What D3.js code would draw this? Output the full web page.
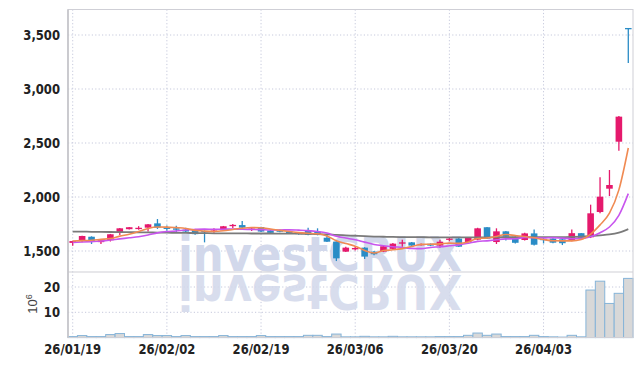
<!DOCTYPE html>
<html>
<head>
<meta charset="utf-8">
<script src="https://cdn.jsdelivr.net/npm/d3@7"></script>
<style>
  body { margin: 0; background: #fff; }
  svg { display: block; }
  .lbl { font-family: "Liberation Sans Narrow", "DejaVu Sans", sans-serif; font-weight: bold; font-size: 14.5px; fill: #222; }
</style>
</head>
<body>
<div id="chart"></div>
<script>
const width = 642;
const height = 366;

// trading days (yy/mm/dd)
const dates = [
  '26/01/19','26/01/20','26/01/21','26/01/22','26/01/23','26/01/26','26/01/27','26/01/28','26/01/29','26/01/30',
  '26/02/02','26/02/03','26/02/04','26/02/05','26/02/06','26/02/09','26/02/10','26/02/11','26/02/12','26/02/13',
  '26/02/19','26/02/20','26/02/23','26/02/24','26/02/25','26/02/26','26/02/27','26/03/03','26/03/04','26/03/05',
  '26/03/06','26/03/09','26/03/10','26/03/11','26/03/12','26/03/13','26/03/16','26/03/17','26/03/18','26/03/19',
  '26/03/20','26/03/23','26/03/24','26/03/25','26/03/26','26/03/27','26/03/30','26/03/31','26/04/01','26/04/02',
  '26/04/03','26/04/06','26/04/07','26/04/08','26/04/09','26/04/10','26/04/13','26/04/14','26/04/15','26/04/16'
];
const tickDates = ['26/01/19','26/02/02','26/02/19','26/03/06','26/03/20','26/04/03'];
const priceTicks = [1500, 2000, 2500, 3000, 3500];
const volumeTicks = [10, 20];

const opens = [1575,1592,1632,1582,1599,1673,1702,1710,1716,1756, 1716,1710,1698,1694,1686,1682,1692,1736,1740,1700,
  1722,1690,1690,1680,1673,1692,1679,1623,1586,1494, 1515,1531,1494,1494,1520,1568,1580,1555,1567,1550,
  1605,1615,1583,1605,1720,1583,1682,1632,1602,1663, 1612,1615,1608,1597,1665,1627,1861,2077,2512,3565];
const highs = [1596,1642,1636,1605,1658,1712,1722,1730,1750,1796, 1735,1734,1716,1698,1690,1710,1732,1750,1778,1720,
  1725,1695,1700,1684,1676,1716,1710,1648,1590,1540, 1545,1535,1500,1546,1575,1605,1583,1570,1570,1605,
  1627,1620,1630,1715,1722,1710,1685,1636,1668,1700, 1630,1618,1612,1700,1667,1929,2182,2250,2750,3565];
const lows = [1548,1582,1565,1565,1588,1648,1698,1697,1680,1704, 1688,1673,1675,1650,1580,1668,1690,1712,1704,1685,
  1676,1660,1673,1658,1650,1645,1645,1583,1407,1490, 1505,1426,1460,1490,1515,1540,1546,1550,1545,1530,
  1590,1538,1580,1600,1612,1565,1597,1570,1598,1552, 1570,1572,1555,1590,1620,1620,1850,2009,2429,3240];
const closes = [1592,1639,1588,1600,1655,1710,1720,1715,1747,1716, 1706,1697,1680,1656,1680,1690,1729,1742,1716,1708,
  1680,1668,1682,1662,1656,1650,1648,1586,1432,1531, 1528,1448,1470,1543,1568,1580,1550,1565,1550,1586,
  1615,1540,1627,1710,1615,1682,1632,1576,1663,1558, 1600,1577,1572,1665,1622,1849,2003,2111,2744,3565];
// volume, millions of shares
const volumes = [0.4,0.8,0.4,0.4,1.2,1.6,0.4,0.4,1.2,0.8, 0.8,0.4,0.8,0.4,0.4,0.4,0.8,0.4,0.4,0.4,
  0.8,0.4,0.4,0.4,0.4,0.9,0.9,0.4,1.4,0.3, 0.3,0.5,0.3,0.3,0.5,0.3,0.3,0.3,0.3,0.4,
  0.4,0.4,0.9,1.8,0.9,1.4,0.4,0.4,0.4,0.9, 0.4,0.3,0.2,0.9,0.3,18.8,22.3,13.5,17.5,23.4];

// moving averages as drawn
const ma5 = [1593,1596,1600,1608,1615,1638,1655,1680,1709,1722, 1721,1716,1709,1691,1684,1681,1687,1699,1711,1717,
  1715,1703,1691,1680,1670,1664,1660,1640,1594,1569, 1545,1505,1482,1504,1511,1522,1542,1561,1563,1566,
  1573,1571,1584,1616,1621,1635,1653,1643,1634,1622, 1606,1595,1594,1594,1607,1657,1742,1850,2066,2454];
const ma10 = [1580,1583,1587,1592,1602,1612,1622,1632,1648,1668, 1680,1685,1695,1700,1703,1701,1702,1704,1701,1700,
  1698,1695,1695,1696,1693,1689,1681,1666,1637,1620, 1604,1582,1561,1549,1540,1533,1524,1522,1533,1539,
  1548,1557,1572,1589,1594,1604,1612,1613,1625,1622, 1620,1624,1619,1614,1615,1631,1669,1722,1830,2031];
const ma60 = [1680,1679,1678,1677,1676,1675,1674,1673,1672,1671, 1670,1668,1667,1666,1665,1664,1664,1663,1663,1662,
  1662,1662,1661,1661,1660,1659,1657,1654,1649,1645, 1641,1637,1634,1632,1630,1629,1628,1628,1627,1627,
  1627,1626,1626,1627,1627,1627,1628,1628,1628,1628, 1628,1628,1629,1630,1632,1638,1645,1653,1670,1702];

const upColor = '#e5196c';
const downColor = '#2a8cc6';

const plotLeft = 68, plotRight = 633, plotTop = 9.5, priceBottom = 272, volBottom = 337.5;

const svg = d3.select('#chart').append('svg')
  .attr('width', width)
  .attr('height', height);

const x = d3.scaleBand().domain(dates).range([plotLeft, plotRight]).padding(0);
const cx = d => x(d) + x.bandwidth() / 2;
const y = d3.scaleLinear().domain([1500, 3500]).range([251, 35]);
const yv = d3.scaleLinear().domain([0, 20]).range([337.6, 287]);

// GRID
const grid = svg.append('g')
  .attr('stroke', '#c6c9dc')
  .attr('stroke-dasharray', '1.2,2.2');
priceTicks.forEach(t => {
  grid.append('line').attr('x1', plotLeft).attr('x2', plotRight).attr('y1', y(t)).attr('y2', y(t));
});
volumeTicks.forEach(t => {
  grid.append('line').attr('x1', plotLeft).attr('x2', plotRight).attr('y1', yv(t)).attr('y2', yv(t));
});
tickDates.forEach(d => {
  grid.append('line').attr('x1', cx(d)).attr('x2', cx(d)).attr('y1', plotTop).attr('y2', volBottom);
});

// WATERMARK
const wm = svg.append('g')
  .attr('font-family', '"DejaVu Sans", sans-serif')
  .attr('font-weight', 'bold')
  .attr('font-size', 48)
  .attr('fill', '#d2d8eb');
wm.append('text')
  .attr('x', 178).attr('y', 271)
  .attr('textLength', 284).attr('lengthAdjust', 'spacingAndGlyphs')
  .text('investCRUX');
wm.append('text')
  .attr('x', 178).attr('y', 271)
  .attr('transform', 'translate(0,546) scale(1,-1)')
  .attr('textLength', 284).attr('lengthAdjust', 'spacingAndGlyphs')
  .attr('opacity', 0.85)
  .text('investCRUX');

// VOLUME
svg.append('g').selectAll('rect')
  .data(dates)
  .join('rect')
  .attr('x', d => x(d))
  .attr('width', x.bandwidth())
  .attr('y', (d, i) => yv(volumes[i]))
  .attr('height', (d, i) => yv(0) - yv(volumes[i]))
  .attr('fill', '#d8d8d8')
  .attr('stroke', '#86b4d8')
  .attr('stroke-width', 1);

// CANDLES
const bodyW = x.bandwidth() * 0.7;
const candles = svg.append('g');
dates.forEach((d, i) => {
  const color = closes[i] > opens[i] ? upColor : downColor;
  candles.append('line')
    .attr('x1', cx(d)).attr('x2', cx(d))
    .attr('y1', y(highs[i])).attr('y2', y(lows[i]))
    .attr('stroke', color)
    .attr('stroke-width', 1.3);
  const yTop = y(Math.max(opens[i], closes[i]));
  const yBot = y(Math.min(opens[i], closes[i]));
  candles.append('rect')
    .attr('x', cx(d) - bodyW / 2)
    .attr('width', bodyW)
    .attr('y', yTop)
    .attr('height', Math.max(1.3, yBot - yTop))
    .attr('fill', color);
});

// MOVING AVERAGES
const lineFor = values => d3.line()
  .x((d, i) => cx(dates[i]))
  .y(d => y(d))
  .curve(d3.curveMonotoneX)(values);
[[ma60, '#7a7a7a', 1.8], [ma10, '#c855ee', 1.6], [ma5, '#f08a52', 1.6]].forEach(([vals, color, w]) => {
  svg.append('path')
    .attr('d', lineFor(vals))
    .attr('fill', 'none')
    .attr('stroke', color)
    .attr('stroke-width', w);
});

// FRAME
const frame = svg.append('g').attr('stroke', '#cfcfd6').attr('fill', 'none');
frame.append('rect')
  .attr('x', plotLeft).attr('y', plotTop)
  .attr('width', plotRight - plotLeft).attr('height', volBottom - plotTop)
  .attr('stroke-width', 1);
frame.append('line')
  .attr('x1', plotLeft).attr('x2', plotRight)
  .attr('y1', priceBottom).attr('y2', priceBottom)
  .attr('stroke-width', 1.2);
frame.append('line')
  .attr('x1', plotLeft).attr('x2', plotLeft)
  .attr('y1', plotTop).attr('y2', volBottom)
  .attr('stroke', '#c4c4c8')
  .attr('stroke-width', 1.6);

// AXES
const priceAxis = svg.append('g')
  .attr('transform', `translate(${plotLeft - 5},0)`)
  .call(d3.axisLeft(y).tickValues(priceTicks).tickFormat(d3.format(',')).tickSize(0));
const volAxis = svg.append('g')
  .attr('transform', `translate(${plotLeft - 5},0)`)
  .call(d3.axisLeft(yv).tickValues(volumeTicks).tickSize(0));
const dateAxis = svg.append('g')
  .attr('transform', `translate(0,${volBottom + 3})`)
  .call(d3.axisBottom(x).tickValues(tickDates).tickSize(0));
[priceAxis, volAxis, dateAxis].forEach(a => {
  a.select('.domain').remove();
  a.attr('font-size', null).attr('font-family', null);
  // squeeze labels to a narrow look
  a.selectAll('text').attr('class', 'lbl').each(function () {
    const w = this.getComputedTextLength();
    d3.select(this).attr('textLength', w * 0.8).attr('lengthAdjust', 'spacingAndGlyphs');
  });
});

const unit = svg.append('text')
  .attr('transform', 'translate(37,304) rotate(-90)')
  .attr('text-anchor', 'middle')
  .attr('font-family', '"Liberation Sans", Arial, sans-serif')
  .attr('font-size', 13)
  .attr('fill', '#444');
unit.append('tspan').text('10');
unit.append('tspan').attr('dy', -5).attr('font-size', 9).text('6');
</script>
</body>
</html>
